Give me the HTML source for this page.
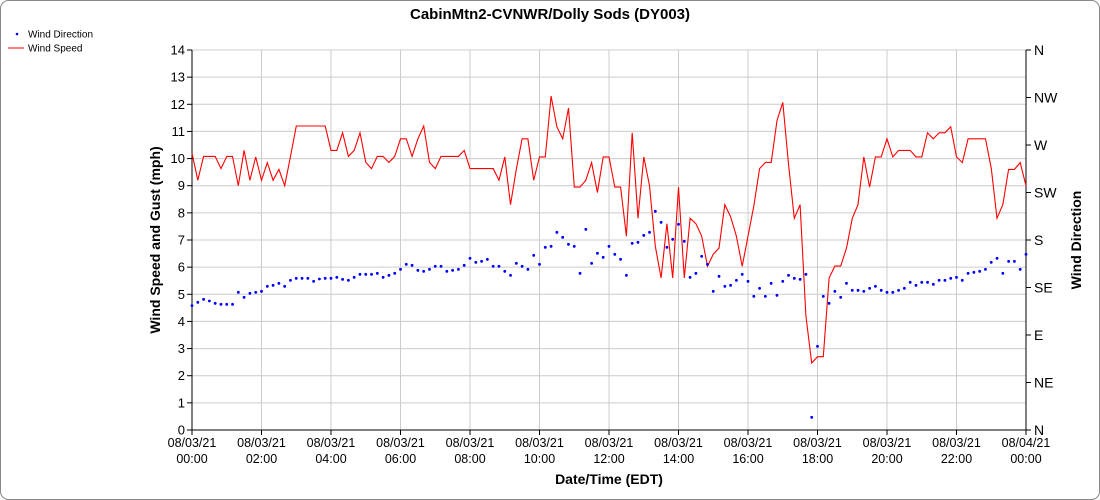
<!DOCTYPE html>
<html><head><meta charset="utf-8"><style>
html,body{margin:0;padding:0;background:#fff;}
svg{display:block;font-family:"Liberation Sans",sans-serif;}
</style></head><body>
<svg id="c" width="1100" height="500" xmlns="http://www.w3.org/2000/svg">
<rect x="0.5" y="0.5" width="1099" height="499" rx="8" fill="#fff" stroke="#888"/>
<text x="550" y="19" text-anchor="middle" font-weight="bold" font-size="15">CabinMtn2-CVNWR/Dolly Sods (DY003)</text>
<circle cx="17" cy="34" r="1.3" fill="#00f"/>
<text x="28" y="37.5" font-size="10">Wind Direction</text>
<line x1="8" y1="48" x2="24" y2="48" stroke="#f00"/>
<text x="28" y="51.5" font-size="10">Wind Speed</text>
<g id="g"></g>
<text transform="translate(160,240) rotate(-90)" text-anchor="middle" font-weight="bold" font-size="14">Wind Speed and Gust (mph)</text>
<text transform="translate(1081,240) rotate(-90)" text-anchor="middle" font-weight="bold" font-size="14">Wind Direction</text>
<text x="609" y="484" text-anchor="middle" font-weight="bold" font-size="14">Date/Time (EDT)</text>
</svg>
<script>
var L=192,R=1026,T=50,B=430,NS="http://www.w3.org/2000/svg",g=document.getElementById('g');
function el(t,a,txt){var e=document.createElementNS(NS,t);for(var k in a)e.setAttribute(k,a[k]);if(txt!=null)e.textContent=txt;g.appendChild(e);return e;}
var uy=(B-T)/14;
for(var i=0;i<=14;i++){var y=B-i*uy;el('line',{x1:L,x2:R,y1:y,y2:y,stroke:'#ccc'});el('line',{x1:L-5,x2:L,y1:y,y2:y,stroke:'#000'});el('text',{x:L-7,y:y+4.5,'text-anchor':'end','font-size':13},i);}
var hx=(R-L)/12;
for(var i=0;i<=12;i++){var x=L+i*hx;el('line',{x1:x,x2:x,y1:T,y2:B,stroke:'#ccc'});el('line',{x1:x,x2:x,y1:B,y2:B+5,stroke:'#000'});
var h=(i*2)%24;var d=i==12?'08/04/21':'08/03/21';el('text',{x:x,y:B+17,'text-anchor':'middle','font-size':12.5},d);el('text',{x:x,y:B+33,'text-anchor':'middle','font-size':12.5},(h<10?'0':'')+h+':00');}
var dl=['N','NE','E','SE','S','SW','W','NW','N'];
for(var i=0;i<=8;i++){var y=B-i*(B-T)/8;el('line',{x1:R,x2:R+5,y1:y,y2:y,stroke:'#000'});el('text',{x:R+8,y:y+5,'font-size':14},dl[i]);}
el('line',{x1:L,x2:L,y1:T,y2:B,stroke:'#000'});el('line',{x1:R,x2:R,y1:T,y2:B,stroke:'#000'});el('line',{x1:L,x2:R,y1:B,y2:B,stroke:'#000'});
var sp=[10.2,9.2,10.08,10.08,10.08,9.63,10.08,10.08,9.0,10.3,9.2,10.06,9.2,9.85,9.2,9.6,9.0,10.08,11.2,11.2,11.2,11.2,11.2,11.2,10.3,10.3,10.95,10.08,10.3,10.95,9.86,9.63,10.08,10.08,9.86,10.08,10.73,10.73,10.08,10.73,11.2,9.86,9.63,10.08,10.08,10.08,10.08,10.3,9.63,9.63,9.63,9.63,9.63,9.2,10.06,8.3,9.6,10.73,10.73,9.2,10.06,10.06,12.3,11.17,10.73,11.86,8.95,8.95,9.2,9.85,8.75,10.06,10.06,8.95,8.95,7.14,10.95,7.8,10.06,9.0,6.77,5.6,7.6,5.6,8.95,5.6,7.8,7.6,7.14,6.03,6.48,6.7,8.3,7.86,7.14,6.03,7.14,8.25,9.63,9.86,9.86,11.4,12.07,9.8,7.8,8.3,4.2,2.47,2.7,2.7,5.6,6.04,6.04,6.7,7.8,8.3,10.06,8.95,10.06,10.06,10.73,10.06,10.3,10.3,10.3,10.06,10.06,10.95,10.73,10.95,10.95,11.17,10.06,9.85,10.73,10.73,10.73,10.73,9.63,7.8,8.3,9.6,9.6,9.85,9.0];
var dz=[647,637,628,633,640,643,643,643,607,622,610,607,604,589,586,580,589,571,565,565,565,574,567,565,565,562,568,571,562,553,553,553,550,562,556,550,538,523,526,541,544,538,529,529,544,541,538,526,505,517,514,508,529,529,544,556,520,529,538,496,523,472,469,427,442,463,469,550,418,520,490,502,469,493,508,556,460,457,436,427,364,397,472,448,403,454,562,550,499,523,604,559,589,586,571,553,574,619,595,619,580,616,574,556,565,568,553,982,769,619,640,604,622,580,601,601,604,595,589,601,607,607,601,595,577,586,577,577,583,571,571,565,562,571,550,547,544,538,517,505,550,514,514,538,493];
var dx=(R-L)/144,p=[];
for(var i=0;i<sp.length;i++)p.push((L+i*dx).toFixed(1)+','+(B-sp[i]*uy).toFixed(1));
el('polyline',{points:p.join(' '),fill:'none',stroke:'#f00','stroke-width':1.1});
for(var i=0;i<dz.length;i++)el('circle',{cx:L+i*dx,cy:90+dz[i]/3,r:1.4,fill:'#00f'});
</script>
</body></html>
